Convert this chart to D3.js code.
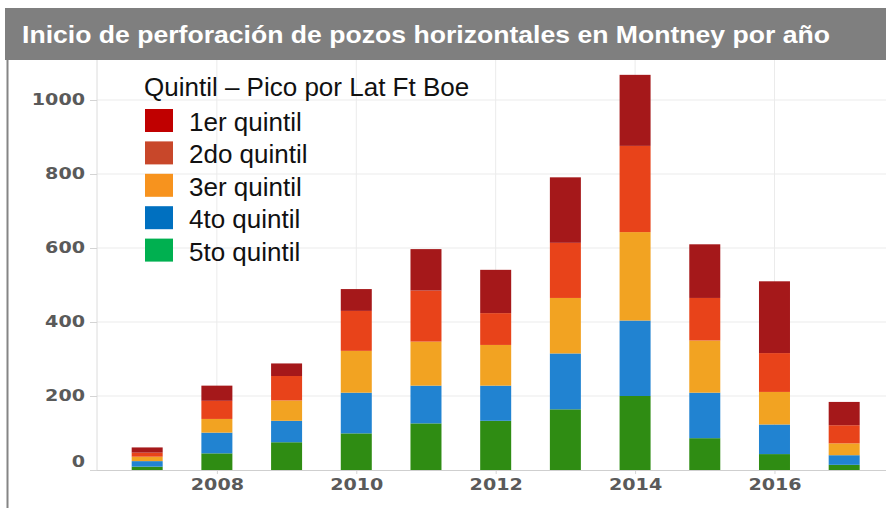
<!DOCTYPE html>
<html lang="es">
<head>
<meta charset="UTF-8">
<title>Inicio de perforación de pozos horizontales en Montney por año</title>
<style>
  body { margin: 0; background: #fff; }
  svg { display: block; font-family: "Liberation Sans", Arial, sans-serif; }
  .axis text { font-family: "DejaVu Sans", Verdana, sans-serif; font-weight: bold; font-size: 15px; fill: #5a5a5a; }
  .axis line { stroke: #d4d4d4; }
  .axis path { display: none; }
  .grid line { stroke: #ebebeb; stroke-width: 1; }
</style>
</head>
<body>
<div id="chart"></div>
<script src="https://d3js.org/d3.v7.min.js"></script>
<script>
// pozos por año, apilados de abajo (5to) hacia arriba (1er)
const years = [2007, 2008, 2009, 2010, 2011, 2012, 2013, 2014, 2015, 2016, 2017];
const q1 = [14, 41, 34, 59, 112, 117, 177, 192, 145, 194, 63];
const q2 = [11, 49, 66, 108, 138, 86, 149, 233, 115, 105, 49];
const q3 = [12, 37, 55, 113, 119, 110, 150, 239, 141, 88, 32];
const q4 = [15, 56, 58, 110, 102, 95, 151, 204, 123, 80, 26];
const q5 = [9, 45, 75, 99, 126, 133, 164, 200, 86, 43, 14];
const yTicks = [0, 200, 400, 600, 800, 1000];
const xTicks = [2008, 2010, 2012, 2014, 2016];

const legendTitle = "Quintil – Pico por Lat Ft Boe";
const legendLabels = ["1er quintil", "2do quintil", "3er quintil", "4to quintil", "5to quintil"];
const legendColors = ["#c00000", "#c8472a", "#f7931e", "#0070c0", "#00b050"];
const barColors = { q1: "#a5181a", q2: "#e8431a", q3: "#f2a322", q4: "#2183d1", q5: "#2f8c13" };

const W = 886, H = 508;
const plot = { left: 97, right: 886, top: 60, bottom: 470 };

const table = years.map((y, i) => ({ year: y, q1: q1[i], q2: q2[i], q3: q3[i], q4: q4[i], q5: q5[i] }));
const stacked = d3.stack().keys(["q5", "q4", "q3", "q2", "q1"])(table);

const x = d3.scaleLinear().domain([2006.28, 2017.6]).range([plot.left, plot.right]);
const y = d3.scaleLinear().domain([0, 1000]).range([plot.bottom, 100]);
const barW = 31;

const svg = d3.select("#chart").append("svg")
    .attr("width", W)
    .attr("height", H);

// rejilla
const grid = svg.append("g").attr("class", "grid");
grid.selectAll(".h").data(yTicks.slice(1)).enter().append("line")
    .attr("x1", plot.left).attr("x2", plot.right)
    .attr("y1", d => y(d)).attr("y2", d => y(d));
grid.selectAll(".v").data(xTicks).enter().append("line")
    .attr("x1", d => x(d)).attr("x2", d => x(d))
    .attr("y1", plot.top).attr("y2", plot.bottom);
grid.append("line")
    .attr("x1", plot.left).attr("x2", plot.left)
    .attr("y1", plot.top).attr("y2", plot.bottom)
    .style("stroke", "#dcdcdc");

// barras
svg.selectAll(".layer")
    .data(stacked)
    .enter()
    .append("g")
    .attr("fill", d => barColors[d.key])
    .selectAll("rect")
    .data(d => d)
    .enter()
    .append("rect")
    .attr("x", d => x(d.data.year) - barW / 2)
    .attr("y", d => y(d[1]))
    .attr("width", barW)
    .attr("height", d => y(d[0]) - y(d[1]));

// ejes
const yAxis = svg.append("g")
    .attr("class", "axis")
    .attr("transform", `translate(${plot.left},0)`)
    .call(d3.axisLeft(y).tickValues(yTicks).tickFormat(d3.format("d")).tickSize(7).tickPadding(5));
yAxis.selectAll("text")
    .attr("textLength", function () { return this.textContent.length * 13.3; })
    .attr("lengthAdjust", "spacingAndGlyphs")
    .attr("dy", d => d === 0 ? "-0.25em" : "0.32em");

const xAxis = svg.append("g")
    .attr("class", "axis")
    .attr("transform", `translate(0,${plot.bottom})`)
    .call(d3.axisBottom(x).tickValues(xTicks).tickFormat(d3.format("d")).tickSize(4).tickPadding(5));
xAxis.selectAll("text")
    .attr("textLength", function () { return this.textContent.length * 13.3; })
    .attr("lengthAdjust", "spacingAndGlyphs");

svg.append("line")
    .attr("x1", plot.left).attr("x2", plot.right)
    .attr("y1", plot.bottom + 0.5).attr("y2", plot.bottom + 0.5)
    .style("stroke", "#cfcfcf");

// marco y título
svg.append("line")
    .attr("x1", 7.5).attr("x2", 7.5)
    .attr("y1", 60).attr("y2", H)
    .style("stroke", "#858585")
    .style("stroke-width", 2);

svg.append("rect")
    .attr("x", 5).attr("y", 8)
    .attr("width", W - 5).attr("height", 52)
    .attr("fill", "#7f7f7f");

svg.append("text")
    .attr("x", 22).attr("y", 43)
    .attr("textLength", 808)
    .attr("lengthAdjust", "spacingAndGlyphs")
    .style("font-size", "24px")
    .style("font-weight", "bold")
    .style("fill", "#fff")
    .text("Inicio de perforación de pozos horizontales en Montney por año");

// leyenda
const legend = svg.append("g");
legend.append("text")
    .attr("x", 144).attr("y", 96)
    .style("font-size", "26px")
    .style("fill", "#111")
    .text(legendTitle);

const rows = legend.selectAll(".row")
    .data(legendLabels)
    .enter()
    .append("g")
    .attr("transform", (d, i) => `translate(0,${i * 32.4})`);
rows.append("rect")
    .attr("x", 145).attr("y", 109)
    .attr("width", 28).attr("height", 23)
    .attr("fill", (d, i) => legendColors[i]);
rows.append("text")
    .attr("x", 189).attr("y", 131)
    .style("font-size", "26px")
    .style("fill", "#111")
    .text(d => d);
</script>
</body>
</html>
